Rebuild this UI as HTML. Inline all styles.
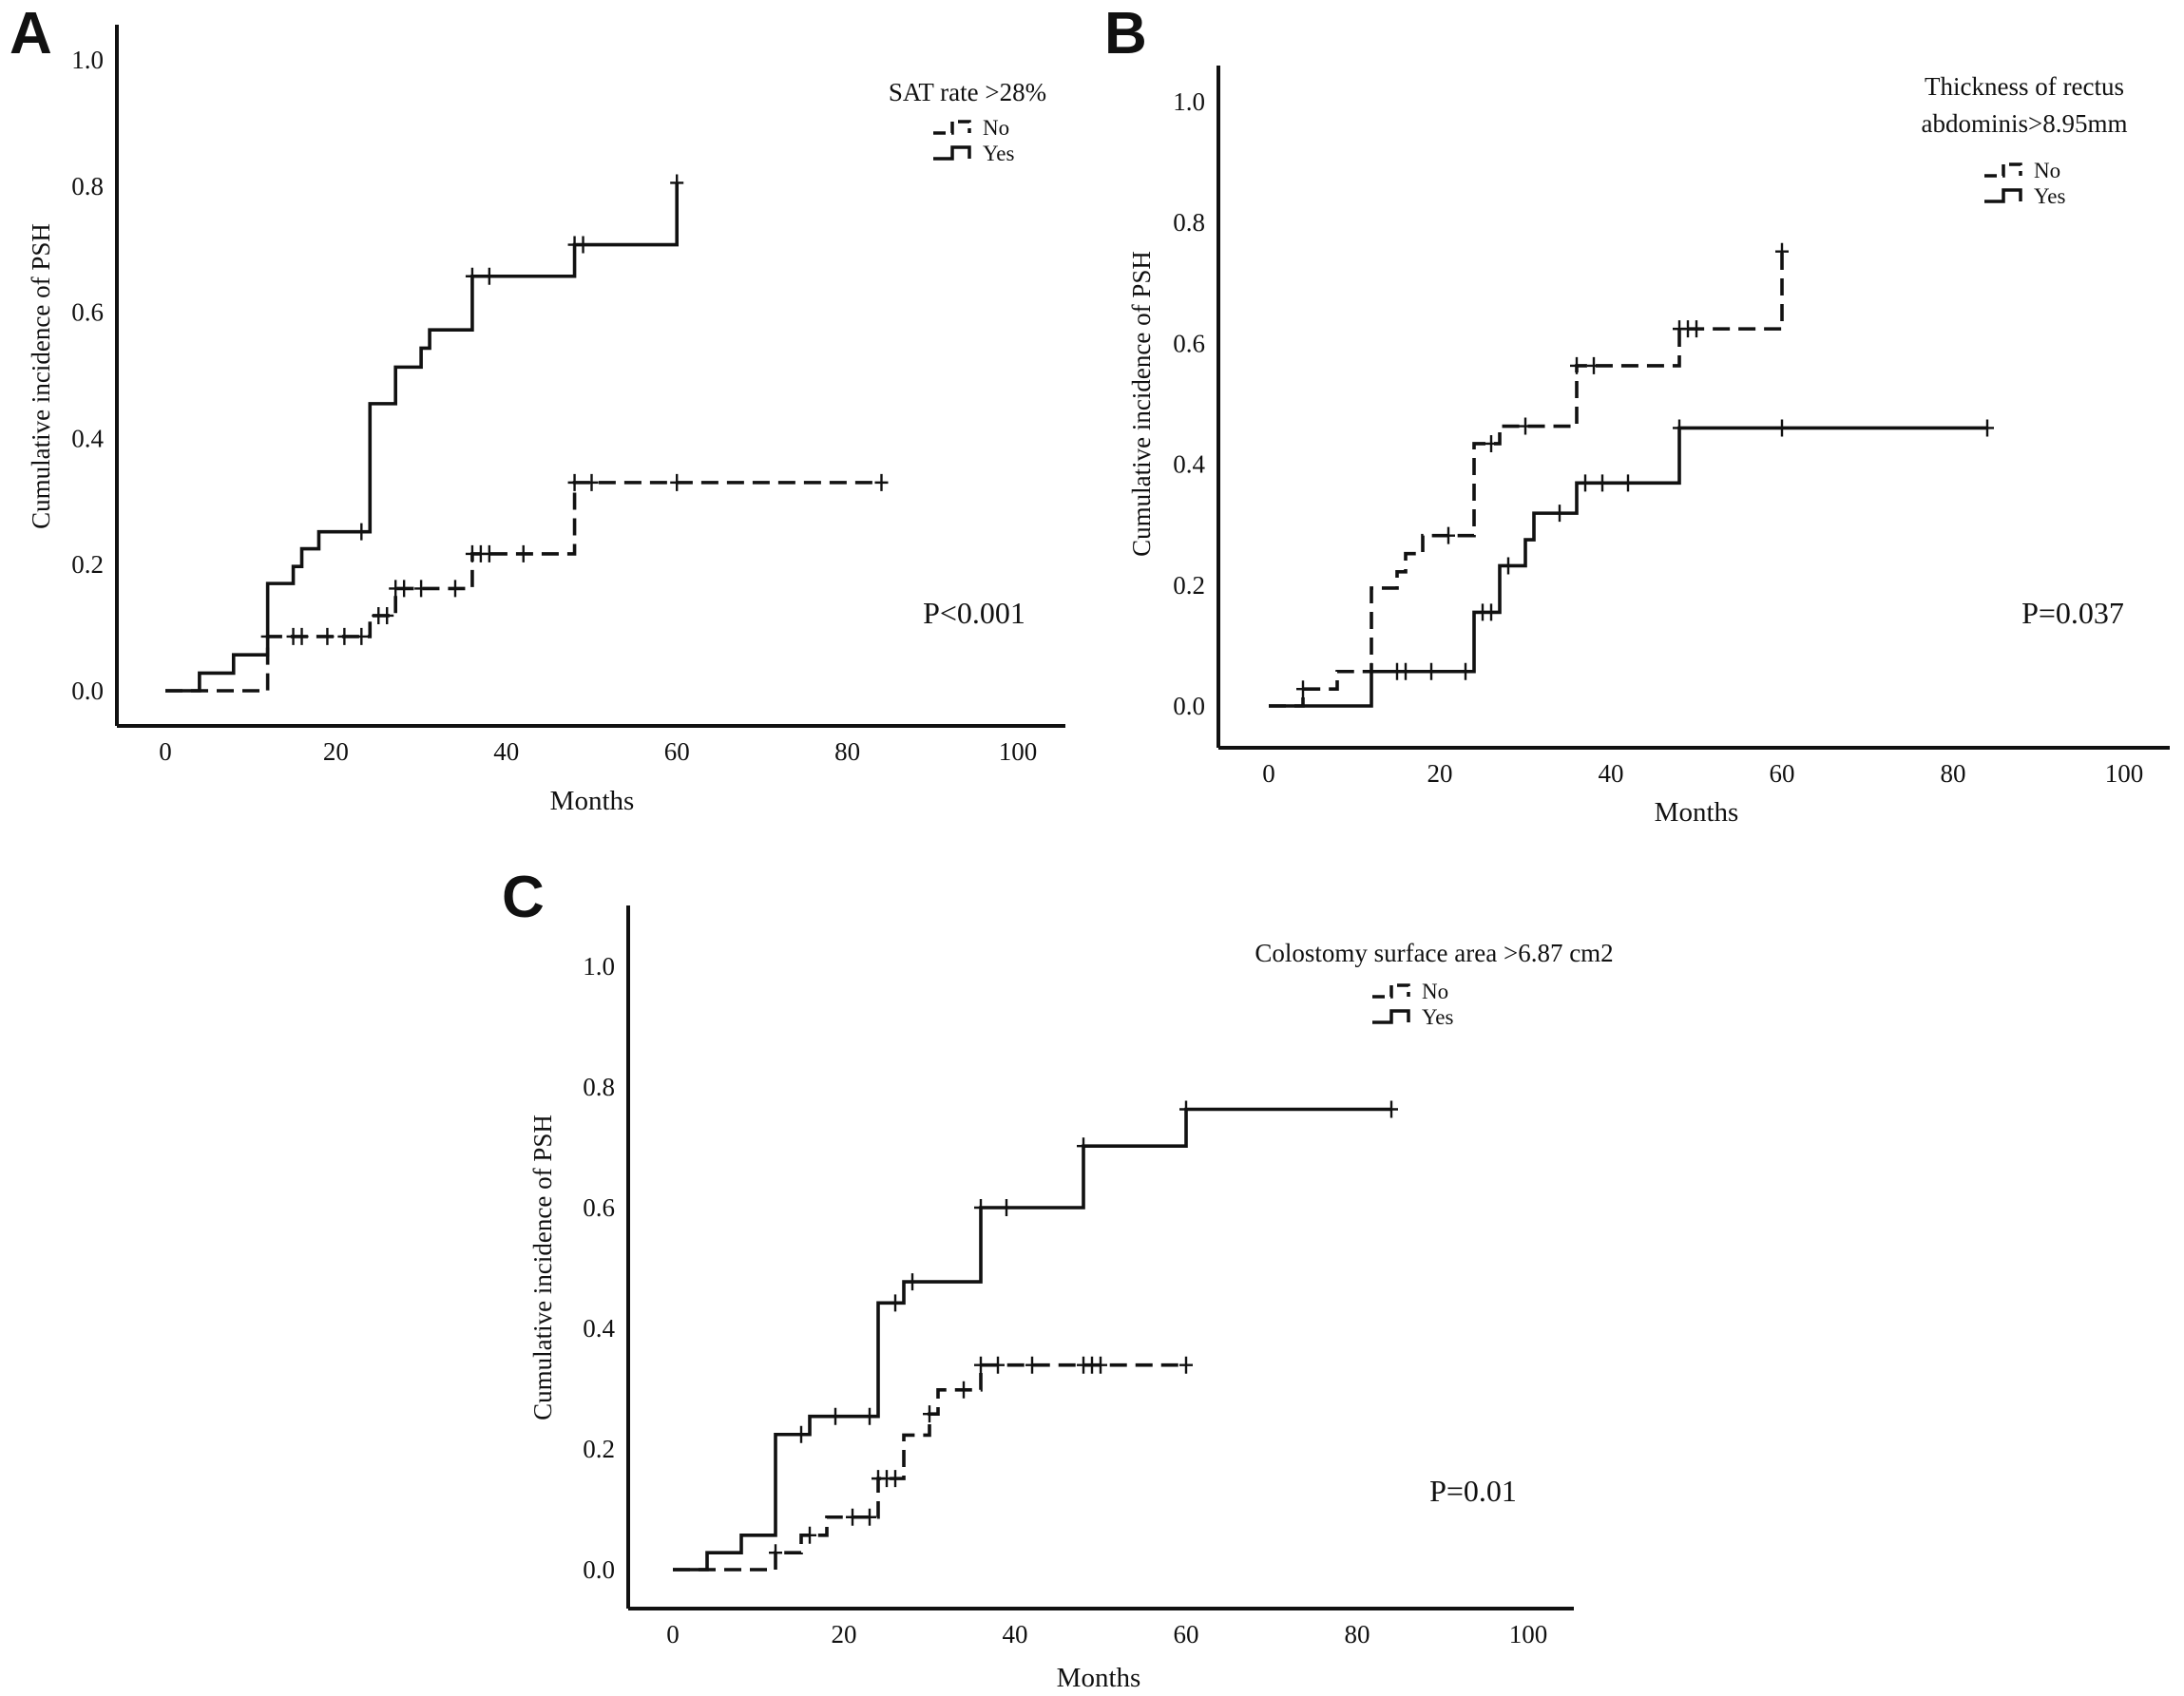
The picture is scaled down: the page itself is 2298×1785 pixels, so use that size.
<!DOCTYPE html>
<html><head><meta charset="utf-8"><style>
html,body{margin:0;padding:0;background:#fff;}
svg{display:block;}
text{font-family:"Liberation Serif",serif;fill:#111;}
.lab{font-family:"Liberation Sans",sans-serif;font-weight:bold;}
</style></head><body>
<svg id="fig" width="2298" height="1785" viewBox="0 0 2298 1785" xmlns="http://www.w3.org/2000/svg"></svg>
<script>
// ---- data ----
const xTicks = [0,20,40,60,80,100];
const yTicks = [0.0,0.2,0.4,0.6,0.8,1.0];
// Panel A
const aYesT = [4,8,12,15,16,18,24,27,30,31,36,48,60];
const aYesV = [0.028,0.057,0.17,0.197,0.225,0.252,0.455,0.513,0.543,0.572,0.657,0.707,0.805];
const aYesEnd = 60;
const aYesCens = [23,36,38,48,49,60];
const aNoT = [12,24,27,36,48];
const aNoV = [0.086,0.119,0.162,0.217,0.33];
const aNoEnd = 84;
const aNoCens = [12,15,16,19,21,23,25,26,27,28,30,34,36,37,38,42,48,50,60,84];
// Panel B
const bNoT = [4,8,12,15,16,18,24,27,36,48,60];
const bNoV = [0.028,0.057,0.195,0.222,0.252,0.282,0.434,0.463,0.563,0.624,0.752];
const bNoEnd = 60;
const bNoCens = [4,21,26,30,36,38,48,49,50,60];
const bYesT = [12,24,27,30,31,36,48];
const bYesV = [0.057,0.155,0.232,0.275,0.319,0.369,0.46];
const bYesEnd = 84;
const bYesCens = [12,15,16,19,23,25,26,28,34,37,39,42,48,60,84];
// Panel C
const cYesT = [4,8,12,16,24,27,36,48,60];
const cYesV = [0.028,0.057,0.224,0.254,0.442,0.477,0.6,0.702,0.763];
const cYesEnd = 84;
const cYesCens = [15,19,23,26,28,36,39,48,60,84];
const cNoT = [12,15,18,24,27,30,31,36];
const cNoV = [0.028,0.057,0.087,0.151,0.223,0.258,0.298,0.339];
const cNoEnd = 60;
const cNoCens = [12,16,21,23,24,25,26,30,34,36,38,42,48,49,50,60];

const NS="http://www.w3.org/2000/svg";
const svg=document.getElementById('fig');
function mk(tag,attrs,parent){const e=document.createElementNS(NS,tag);for(const k in attrs)e.setAttribute(k,attrs[k]);(parent||svg).appendChild(e);return e;}

function panel(P){
  const g=mk('g',{});
  
  
  const sx=v=>P.x0+(P.x100-P.x0)*v/100;
  const sy=v=>P.y0+(P.y1-P.y0)*v;
  const lbl=mk('text',{x:P.labX,y:P.labY,'font-size':62,class:'lab'},g);lbl.textContent=P.id;
  
  
  const ya=mk('line',{x1:P.ax,y1:P.top,x2:P.ax,y2:P.bot,stroke:'#111','stroke-width':4},g);
  
  
  const xa=mk('line',{x1:P.ax,y1:P.bot,x2:P.right,y2:P.bot,stroke:'#111','stroke-width':4},g);
  
  
  yTicks.forEach(v=>{const t=mk('text',{x:P.ax-14,y:sy(v)+9,'font-size':27,'text-anchor':'end'},g);t.textContent=v.toFixed(1);
    
    });
  xTicks.forEach(v=>{const t=mk('text',{x:sx(v),y:P.bot+36,'font-size':27,'text-anchor':'middle'},g);t.textContent=v;
    
    });
  const xt=mk('text',{x:P.mx,y:P.my,'font-size':29,'text-anchor':'middle'},g);xt.textContent='Months';
  
  
  const yt=mk('text',{x:0,y:0,'font-size':27,'text-anchor':'middle',fill:'#333',transform:`translate(${P.ytx},${P.yty}) rotate(-90)`},g);yt.textContent='Cumulative incidence of PSH';
  
  
  P.legTitle.forEach((s,i)=>{const t=mk('text',{x:P.ltx,y:P.lty+i*39,'font-size':27,'text-anchor':'middle'},g);t.textContent=s;
    
    });
  [['No',true,P.lny],['Yes',false,P.lny+27]].forEach(([nm,dash,y])=>{
    const x=P.lgx;
    const d=`M${x},${y+6} H${x+20} V${y-6} H${x+38} V${y+6}`;
    const p=mk('path',{d:d,fill:'none',stroke:'#111','stroke-width':3.5,'stroke-dasharray':dash?'13,6':'none'},g);
    
    
    const t=mk('text',{x:x+52,y:y+8,'font-size':23},g);t.textContent=nm;
    
    
  });
  const pv=mk('text',{x:P.px,y:P.py,'font-size':32,'text-anchor':'middle'},g);pv.textContent=P.ptext;
  
  
  P.series.forEach(S=>{
    let d=`M${sx(0)},${sy(0)}`;
    S.t.forEach((t,i)=>{d+=` H${sx(t)} V${sy(S.v[i])}`;});
    d+=` H${sx(S.end)}`;
    const p=mk('path',{d:d,fill:'none',stroke:'#111','stroke-width':3.6,'stroke-dasharray':S.dash?'18,9':'none'},g);
    
    
    const val=t=>{let v=0;S.t.forEach((tt,i)=>{if(tt<=t)v=S.v[i];});return v;};
    S.cens.forEach(c=>{
      const X=sx(c),Y=sy(val(c));
      const m=mk('path',{d:`M${X},${Y-9} V${Y+9} M${X-7},${Y} H${X+7}`,stroke:'#111','stroke-width':2.4,fill:'none'},g);
      
      
    });
  });
}

panel({id:'A',labX:10,labY:56,ax:123,top:26,bot:764,right:1121,x0:174,x100:1071,y0:727,y1:63,
  mx:623,my:852,ytx:52,yty:396,legTitle:['SAT rate >28%'],ltx:1018,lty:106,lgx:982,lny:134,
  px:1025,py:656,ptext:'P<0.001',
  series:[{name:'yes',t:aYesT,v:aYesV,end:aYesEnd,cens:aYesCens,dash:false},
          {name:'no',t:aNoT,v:aNoV,end:aNoEnd,cens:aNoCens,dash:true}]});
panel({id:'B',labX:1162,labY:56,ax:1282,top:69,bot:787,right:2283,x0:1335,x100:2235,y0:743,y1:107,
  mx:1785,my:864,ytx:1210,yty:425,legTitle:['Thickness of rectus','abdominis>8.95mm'],ltx:2130,lty:100,lgx:2088,lny:179,
  px:2181,py:656,ptext:'P=0.037',
  series:[{name:'no',t:bNoT,v:bNoV,end:bNoEnd,cens:bNoCens,dash:true},
          {name:'yes',t:bYesT,v:bYesV,end:bYesEnd,cens:bYesCens,dash:false}]});
panel({id:'C',labX:528,labY:965,ax:661,top:953,bot:1693,right:1656,x0:708,x100:1608,y0:1652,y1:1017,
  mx:1156,my:1775,ytx:580,yty:1334,legTitle:['Colostomy surface area >6.87 cm2'],ltx:1509,lty:1012,lgx:1444,lny:1043,
  px:1550,py:1580,ptext:'P=0.01',
  series:[{name:'yes',t:cYesT,v:cYesV,end:cYesEnd,cens:cYesCens,dash:false},
          {name:'no',t:cNoT,v:cNoV,end:cNoEnd,cens:cNoCens,dash:true}]});
</script>
</body></html>
